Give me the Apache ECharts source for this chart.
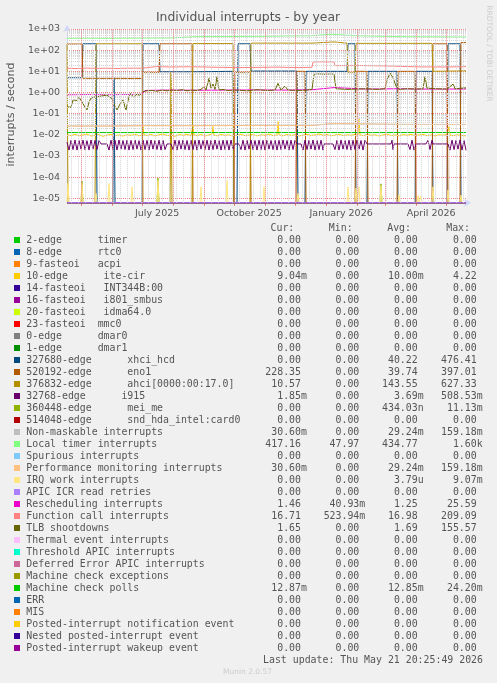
<!DOCTYPE html>
<html><head><meta charset="utf-8">
<script src="https://cdn.jsdelivr.net/npm/echarts@6/dist/echarts.min.js"></script>
<style>html,body{margin:0;padding:0;background:#f0f0f0}#c{width:497px;height:683px}</style>
</head><body><div id="c"></div>
<script>
// ---------------- data ----------------
const START = '2025-04-16T20:25:49';
const END = '2026-05-21T20:25:49';
const monthStarts = ['2025-05-01','2025-06-01','2025-07-01','2025-08-01','2025-09-01','2025-10-01','2025-11-01','2025-12-01','2026-01-01','2026-02-01','2026-03-01','2026-04-01','2026-05-01'];
const labelDates = ['2025-07-16','2025-10-16','2026-01-16','2026-04-16'];
const labelTexts = ['July 2025','October 2025','January 2026','April 2026'];
const Y_MIN = 6.2e-6, Y_MAX = 1000;

const names = ['2-edge      timer','8-edge      rtc0','9-fasteoi   acpi','10-edge      ite-cir','14-fasteoi   INT344B:00','16-fasteoi   i801_smbus','20-fasteoi   idma64.0','23-fasteoi  mmc0','0-edge      dmar0','1-edge      dmar1','327680-edge      xhci_hcd','520192-edge      eno1','376832-edge      ahci[0000:00:17.0]','32768-edge      i915','360448-edge      mei_me','514048-edge      snd_hda_intel:card0','Non-maskable interrupts','Local timer interrupts','Spurious interrupts','Performance monitoring interrupts','IRQ work interrupts','APIC ICR read retries','Rescheduling interrupts','Function call interrupts','TLB shootdowns','Thermal event interrupts','Threshold APIC interrupts','Deferred Error APIC interrupts','Machine check exceptions','Machine check polls','ERR','MIS','Posted-interrupt notification event','Nested posted-interrupt event','Posted-interrupt wakeup event'];
const colors = ['#00CC00','#0066B3','#FF8000','#FFCC00','#330099','#990099','#CCFF00','#FF0000','#808080','#008F00','#00487D','#B35A00','#B38F00','#6B006B','#8FB300','#B30000','#BEBEBE','#80FF80','#80C9FF','#FFC080','#FFE680','#AA80FF','#EE00CC','#FF8080','#666600','#FFBFFF','#00FFCC','#CC6699','#999900','#00CC00','#0066B3','#FF8000','#FFCC00','#330099','#990099'];
const curVals = ['0.00','0.00','0.00','9.04m','0.00','0.00','0.00','0.00','0.00','0.00','0.00','228.35','10.57','1.85m','0.00','0.00','30.60m','417.16','0.00','30.60m','0.00','0.00','1.46','16.71','1.65','0.00','0.00','0.00','0.00','12.87m','0.00','0.00','0.00','0.00','0.00'];
const minVals = ['0.00','0.00','0.00','0.00','0.00','0.00','0.00','0.00','0.00','0.00','0.00','0.00','0.00','0.00','0.00','0.00','0.00','47.97','0.00','0.00','0.00','0.00','40.93m','523.94m','0.00','0.00','0.00','0.00','0.00','0.00','0.00','0.00','0.00','0.00','0.00'];
const avgVals = ['0.00','0.00','0.00','10.00m','0.00','0.00','0.00','0.00','0.00','0.00','40.22','39.74','143.55','3.69m','434.03n','0.00','29.24m','434.77','0.00','29.24m','3.79u','0.00','1.25','16.98','1.69','0.00','0.00','0.00','0.00','12.85m','0.00','0.00','0.00','0.00','0.00'];
const maxVals = ['0.00','0.00','0.00','4.22','0.00','0.00','0.00','0.00','0.00','0.00','476.41','397.01','627.33','508.53m','11.13m','0.00','159.18m','1.60k','0.00','159.18m','9.07m','0.00','25.59','209.09','155.57','0.00','0.00','0.00','0.00','24.20m','0.00','0.00','0.00','0.00','0.00'];

// series values: [day since start, interrupts/s]
const xhciData = [[0,5],[15,5],[16,200],[29,200],[30,0],[46,0],[47,5],[48,0],[75,0],[76,200],[92,200],[93,9.5],[125,9.5],[126,10],[166,10],[167,0],[170,0],[171,200],[183,200],[184,10.3],[230,10.3],[231,0],[238,0],[239,10],[280,10],[281,200],[288,200],[289,0],[300,0],[301,10],[330,10],[331,0],[348,0],[349,10],[365,10],[366,0],[380,0],[381,200],[393,200],[394,0],[399,0]];
const eno1Data = [[0,195],[15,195],[16,4.7],[75,4.6],[76,9],[92,9],[93,200],[125,200],[126,0],[167,0],[168,9],[183,9],[184,0],[229,0],[230,10],[238,10],[239,0],[288,0],[289,10],[300,10],[301,0],[330,0],[331,10],[348,10],[349,0],[365,0],[366,200],[380,200],[381,0],[393,0],[394,228],[399,228.35]];
const ahciData = [[0,195],[1,0],[28,0],[29,200],[75,200],[76,0],[103,0],[104,9],[105,0],[125,0],[126,205],[166,205],[167,0],[183,0],[184,215],[245,215],[246,245],[267,245],[268,215],[280,215],[281,9],[288,9],[289,210],[365,210],[366,10],[399,10.57]];
const localTimerData = [[0,365],[20,368],[40,362],[60,370],[80,372],[103,375],[105,430],[130,435],[160,440],[190,450],[220,470],[245,480],[246,560],[264,565],[265,480],[290,478],[300,470],[301,435],[340,430],[370,425],[399,417]];
const funcCallData = [[0,14],[10,13.5],[20,14.2],[30,13.8],[40,14],[50,13.6],[60,14.1],[75,14],[76,16.5],[90,16.8],[104,16],[125,16.5],[126,15],[150,15.5],[170,15],[190,15.3],[210,15.8],[230,15],[245,15.5],[246,28],[267,28],[268,18.5],[290,18.8],[320,18],[321,16],[350,16.3],[380,16],[399,16.7]];
const reschedData = [[0,0.78],[20,0.8],[40,0.79],[60,0.8],[75,0.82],[78,1.25],[100,1.3],[130,1.28],[160,1.3],[190,1.32],[220,1.3],[245,1.35],[246,1.65],[267,1.7],[268,1.4],[300,1.45],[330,1.5],[360,1.45],[399,1.46]];
const tlbData = [[0,0.21],[2,0.18],[4,0.2],[6,0.45],[8,0.55],[10,0.42],[12,0.6],[14,0.5],[16,0.3],[18,0.2],[20,0.15],[22,0.35],[24,0.55],[26,0.5],[28,0.62],[30,0.6],[32,0.65],[34,0.55],[36,0.7],[38,0.6],[40,0.75],[42,0.65],[44,0.55],[46,0.4],[48,0.22],[50,0.15],[52,0.18],[54,0.35],[56,0.45],[58,0.2],[59,0.15],[61,0.4],[63,0.9],[65,0.75],[67,0.6],[69,0.8],[71,0.65],[73,0.75],[76,1.1],[80,1.2],[85,1.25],[90,1.15],[95,1.3],[100,1.2],[105,1.3],[110,1.25],[115,1.35],[120,1.2],[125,1.3],[130,1.25],[134,1.4],[137,1.9],[139,1.3],[142,4.7],[144,1.6],[146,2.5],[148,1.4],[150,5.6],[152,1.3],[156,1.4],[160,1.25],[170,1.3],[180,1.2],[190,1.35],[200,1.25],[208,1.3],[211,2.7],[214,1.3],[218,2.0],[221,1.3],[230,1.25],[240,1.3],[245,1.4],[247,7.2],[252,7.6],[258,7.3],[264,7.5],[267,7.4],[269,1.5],[280,1.4],[290,1.45],[300,1.5],[310,1.4],[318,1.5],[320,3.9],[323,8.3],[326,5],[329,2],[332,1.4],[340,1.5],[350,1.45],[356,1.5],[358,5.6],[360,1.6],[370,1.5],[380,1.45],[386,2.5],[388,1.5],[395,1.6],[399,1.65]];
const perfData = [[0,0.026],[40,0.026],[76,0.027],[130,0.027],[200,0.028],[245,0.028],[246,0.034],[267,0.034],[268,0.030],[330,0.031],[399,0.0306]];
const nmiData = [[0,0.026],[40,0.026],[76,0.027],[130,0.027],[200,0.028],[245,0.028],[246,0.034],[267,0.034],[268,0.030],[330,0.031],[399,0.0306]];
const mcPollData = [[0,0.0128],[100,0.0128],[200,0.0129],[300,0.0128],[399,0.01287]];
const iteCirData = [[0,.0100],[4,.0092],[8,.0105],[12,.0090],[16,.0098],[20,.0108],[24,.0088],[28,.0095],[32,.0102],[36,.0085],[40,.0097],[44,.0104],[48,.0091],[52,.0099],[56,.0087],[60,.0101],[64,.0094],[68,.0106],[72,.0090],[75,.0098],[76,.025],[77,.0099],[80,.0093],[84,.0104],[88,.0089],[92,.0100],[96,.0108],[100,.0092],[104,.0097],[108,.0086],[112,.0102],[116,.0095],[120,.0105],[124,.0091],[126,.028],[127,.0098],[130,.0093],[134,.0103],[138,.0088],[142,.0099],[145,.0107],[146,.024],[147,.0096],[150,.0090],[154,.0104],[158,.0094],[162,.0100],[166,.0087],[170,.0098],[174,.0106],[178,.0091],[182,.0097],[186,.0103],[190,.0089],[194,.0100],[198,.0095],[202,.0108],[206,.0092],[210,.0099],[211,.042],[212,.0100],[216,.0090],[220,.0104],[224,.0095],[228,.0101],[232,.0088],[236,.0097],[240,.0105],[244,.0093],[248,.0099],[252,.0110],[256,.0094],[260,.0102],[264,.0090],[268,.0098],[272,.0106],[276,.0092],[280,.0100],[284,.0095],[288,.0103],[291,.0097],[292,.056],[293,.0099],[296,.0091],[300,.0104],[304,.0096],[308,.0100],[312,.0088],[316,.0098],[320,.0107],[324,.0093],[328,.0099],[332,.0090],[336,.0102],[340,.0095],[344,.0105],[348,.0091],[352,.0098],[356,.0104],[360,.0092],[364,.0099],[368,.0089],[372,.0101],[376,.0096],[380,.0103],[382,.024],[383,.0097],[386,.0091],[390,.0100],[394,.0094],[398,.0090],[399,.00904]];
const i915Data = [[0,.0045],[2,.0019],[4,.0055],[6,.0020],[8,.0057],[10,.0019],[12,.0054],[14,.0021],[16,.0056],[18,.0020],[20,.0053],[22,.0019],[24,.0057],[26,.0021],[28,.0055],[30,.0020],[32,.0054],[34,.0037],[40,.0037],[42,.0019],[44,.0056],[46,.0020],[48,.0055],[50,.0019],[52,.0057],[54,.0021],[56,.0054],[58,.0020],[60,.0056],[62,.0019],[64,.0055],[66,.0020],[68,.0057],[70,.0021],[72,.0053],[74,.0019],[76,.0056],[78,.0020],[80,.0055],[82,.0019],[84,.0057],[86,.0021],[88,.0054],[90,.0020],[92,.0056],[94,.0019],[96,.0055],[98,.0020],[100,.0037],[104,.0037],[106,.0020],[108,.0056],[110,.0019],[112,.0055],[114,.0021],[116,.0057],[118,.0020],[120,.0054],[122,.0019],[124,.0056],[126,.0020],[128,.0055],[130,.0019],[132,.0057],[134,.0021],[136,.0054],[138,.0020],[140,.0056],[142,.0019],[144,.0055],[146,.0020],[148,.0057],[150,.0021],[152,.0054],[154,.0019],[156,.0056],[158,.0020],[160,.0055],[162,.0019],[164,.0057],[166,.0021],[168,.0037],[172,.0037],[174,.0020],[176,.0056],[178,.0019],[180,.0055],[182,.0021],[184,.0057],[186,.0020],[188,.0054],[190,.0019],[192,.0056],[194,.0020],[196,.0055],[198,.0019],[200,.0057],[202,.0021],[204,.0054],[206,.0020],[208,.0056],[210,.0019],[212,.0055],[214,.0020],[216,.0057],[218,.0021],[220,.0054],[222,.0019],[224,.0056],[226,.0020],[228,.0055],[230,.0037],[234,.0037],[236,.0019],[238,.0056],[240,.0020],[242,.0055],[244,.0021],[246,.0057],[248,.0019],[250,.0054],[252,.0020],[254,.0056],[256,.0019],[257,.0037],[266,.0037],[268,.0020],[270,.0055],[272,.0019],[274,.0057],[276,.0021],[278,.0054],[280,.0020],[282,.0056],[284,.0019],[286,.0055],[288,.0020],[290,.0057],[292,.0021],[294,.0054],[296,.0019],[298,.0056],[300,.0037],[324,.0037],[325,.0055],[326,.0020],[327,.0037],[341,.0037],[343,.0020],[345,.0056],[347,.0019],[349,.0037],[359,.0037],[361,.0055],[363,.0020],[365,.0056],[366,.0037],[381,.0037],[383,.0019],[385,.0056],[387,.0020],[389,.0055],[391,.0021],[393,.0057],[395,.0019],[397,.0054],[399,.00185]];
const irqWorkData = [[0,0],[1,5e-5],[2,0],[14,0],[15,5e-5],[16,0],[28,0],[29,1.7e-5],[30,0],[41,0],[42,5e-5],[43,0],[64,0],[65,3.5e-5],[66,0],[90,0],[91,7e-5],[92,0],[133,0],[134,3.5e-5],[135,0],[159,0],[160,7e-5],[161,0],[196,0],[197,3.5e-5],[198,0],[230,0],[231,1.7e-5],[232,0],[280,0],[281,3.5e-5],[282,0],[288,0],[289,3e-5],[290,0],[291,0],[292,3.5e-5],[293,0],[313,0],[314,4e-5],[315,0],[331,0],[332,1.5e-5],[333,0],[350,0],[351,1.4e-5],[352,0],[353,0],[354,1.3e-5],[355,0],[365,0],[366,3.5e-5],[367,0],[380,0],[381,2.5e-5],[382,0],[393,0],[394,1.4e-5],[395,0],[399,0]];
const meiData = [[0,0],[14,0],[15,6.5e-5],[16,0],[90,0],[91,9e-5],[92,0],[313,0],[314,4.8e-5],[315,0],[399,0]];
const zeroData = [[0,0],[399,0]];

const seriesData = [null,null,null,iteCirData,null,null,null,null,null,null,xhciData,eno1Data,ahciData,i915Data,meiData,null,nmiData,localTimerData,null,perfData,irqWorkData,zeroData,reschedData,funcCallData,tlbData,null,null,null,null,mcPollData,null,null,null,null,null];

// ---------------- chart ----------------
const DAY = 86400000;
const startTs = new Date(START).getTime();
const endTs = new Date(END).getTime();
const toTs = d => startTs + d * DAY;
const dateTs = s => new Date(s + 'T00:00:00').getTime();
const monthTs = monthStarts.map(dateTs);
const labelTs = labelDates.map(dateTs);
const weekTs = [];
for (let t = dateTs('2025-04-21'); t < endTs; t += 7 * DAY) weekTs.push(t);
const minorY = [];
for (let e = -6; e <= 2; e++) for (let m = 2; m <= 9; m++) { const v = m * Math.pow(10, e); if (v > Y_MIN && v < Y_MAX) minorY.push(v); }

const TXT = '#555';
const SANS = '"DejaVu Sans", sans-serif';
const MONO = '9.9px "DejaVu Sans Mono", monospace';

const gridLineSeries = (dataArr, color, z) => ({
  type: 'line', data: [[startTs, null]], silent: true, z, symbol: 'none',
  markLine: { silent: true, symbol: ['none', 'none'], animation: false, label: { show: false },
    lineStyle: { color, type: [1, 1], width: 1 }, data: dataArr }
});

const series = names.map((n, i) => ({
  type: 'line', name: n, symbol: 'none', showSymbol: false, clip: false, silent: true,
  z: i === 21 ? 4 : 3,
  lineStyle: { width: 1, color: colors[i] },
  data: (seriesData[i] || zeroData).map(([d, v]) => [toTs(d), v <= 0 ? Y_MIN : v])
}));
series.unshift(
  gridLineSeries(minorY.map(v => ({ yAxis: v })), '#d4d4d4', 1),
  gridLineSeries(weekTs.map(v => ({ xAxis: v })), '#d4d4d4', 1),
  gridLineSeries(monthTs.map(v => ({ xAxis: v })), '#E88080', 2)
);

const g = [];
const t = (x, y, text, font, fill, align, valign, rot) => g.push({
  type: 'text', x, y, rotation: rot || 0, silent: true,
  style: { text, font, fill, align: align || 'left', verticalAlign: valign || 'middle' }
});
t(248, 18, 'Individual interrupts - by year', '12.4px ' + SANS, TXT, 'center');
t(11, 114.5, 'interrupts / second', '11px ' + SANS, TXT, 'center', 'middle', Math.PI / 2);
t(489, 53.5, 'RRDTOOL / TOBI OETIKER', '7.5px ' + SANS, '#cccccc', 'center', 'middle', -Math.PI / 2);
const colRight = [301, 359.3, 417.7, 476.7];
const headers = ['Cur:', 'Min:', 'Avg:', 'Max:'];
headers.forEach((h, k) => t(colRight[k] - 6.7, 228, h, MONO, TXT, 'right'));
const stats = [curVals, minVals, avgVals, maxVals];
names.forEach((n, i) => {
  const y = 240 + i * 12;
  g.push({ type: 'rect', silent: true, shape: { x: 14, y: y - 3, width: 6, height: 6 }, style: { fill: colors[i] } });
  t(26.3, y, n, MONO, TXT, 'left');
  stats.forEach((arr, k) => {
    const s = arr[i];
    const m = s.match(/^([0-9.]+)([a-zA-Z]?)$/);
    t(colRight[k], y, m[1], MONO, TXT, 'right');
    if (m[2]) t(colRight[k], y, m[2], MONO, TXT, 'left');
  });
});
t(483, 660, 'Last update: Thu May 21 20:25:49 2026', MONO, TXT, 'right');
t(247.5, 672, 'Munin 2.0.57', '7.5px ' + SANS, '#cccccc', 'center');

const expLabel = v => {
  const l = Math.log10(v), e = Math.round(l);
  if (Math.abs(l - e) > 0.01) return '';
  return '1e' + (e < 0 ? '-' : '+') + String(Math.abs(e)).padStart(2, '0');
};
const dateLabel = v => { let best = 0; labelTs.forEach((x, i) => { if (Math.abs(x - v) < Math.abs(labelTs[best] - v)) best = i; }); return labelTexts[best]; };

const chart = echarts.init(document.getElementById('c'), null, { renderer: 'canvas' });
chart.setOption({
  backgroundColor: '#f0f0f0',
  animation: false,
  grid: { left: 67, top: 29, width: 400, height: 173.7, show: true, backgroundColor: '#ffffff', borderWidth: 0 },
  xAxis: {
    type: 'value', min: startTs, max: endTs, scale: true,
    axisLine: { show: true, lineStyle: { color: '#CFD6F8', width: 1 }, symbol: ['none', 'arrow'], symbolSize: [6, 7], symbolOffset: [0, 4] },
    axisTick: { show: true, customValues: monthTs, length: 3, lineStyle: { color: '#E07070' } },
    splitLine: { show: false },
    axisLabel: { customValues: labelTs, color: TXT, fontFamily: SANS, fontSize: 9.5, margin: 6, formatter: dateLabel }
  },
  yAxis: {
    type: 'log', logBase: 10, min: Y_MIN, max: Y_MAX,
    axisLine: { show: true, lineStyle: { color: '#CFD6F8', width: 1 }, symbol: ['none', 'arrow'], symbolSize: [6, 7], symbolOffset: [0, 4] },
    axisTick: { show: false },
    splitLine: { show: true, lineStyle: { color: '#E88080', type: [1, 1], width: 1 } },
    axisLabel: { color: TXT, fontFamily: SANS, fontSize: 9.5, margin: 7, formatter: expLabel, showMinLabel: false }
  },
  series,
  graphic: { elements: g }
});
</script></body></html>
